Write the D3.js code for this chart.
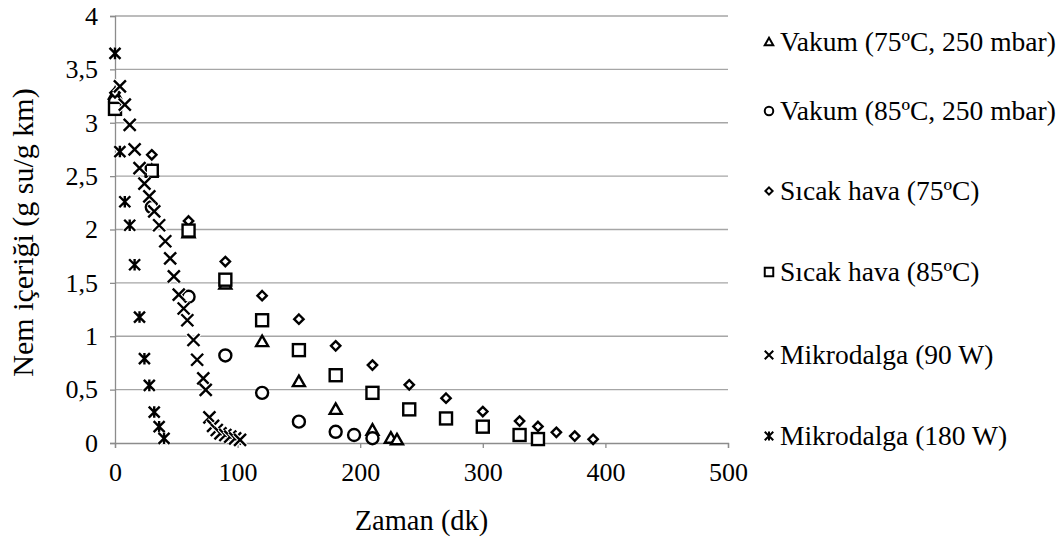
<!DOCTYPE html>
<html>
<head>
<meta charset="utf-8">
<script src="https://cdn.jsdelivr.net/npm/d3@7"></script>
<style>
  html, body { margin: 0; padding: 0; background: #fff; }
  svg { display: block; }
  svg text { font-family: "Liberation Serif", "Times New Roman", Times, "DejaVu Serif", serif !important; fill: #000; }
</style>
</head>
<body>
<svg id="chart" width="1064" height="545"></svg>
<script>
// Drying curves: moisture content (g water / g dry matter) vs. time (min)
const seriesNames = [
  "Vakum (75ºC, 250 mbar)",
  "Vakum (85ºC, 250 mbar)",
  "Sıcak hava (75ºC)",
  "Sıcak hava (85ºC)",
  "Mikrodalga (90 W)",
  "Mikrodalga (180 W)"
];
const seriesShapes = ["triangle", "circle", "diamond", "square", "cross", "star"];

const vakum75 = [[0,3.27],[30,2.55],[60,1.97],[90,1.49],[120,0.95],[150,0.575],[180,0.315],[210,0.12],[225,0.045],[230,0.03]];
const vakum85 = [[0,3.2],[30,2.21],[60,1.37],[90,0.82],[120,0.47],[150,0.2],[180,0.105],[195,0.075],[210,0.045]];
const sicak75 = [[0,3.28],[30,2.7],[60,2.08],[90,1.7],[120,1.38],[150,1.16],[180,0.91],[210,0.73],[240,0.545],[270,0.42],[300,0.295],[330,0.205],[345,0.155],[360,0.1],[375,0.065],[390,0.035]];
const sicak85 = [[0,3.13],[30,2.55],[60,1.99],[90,1.53],[120,1.15],[150,0.87],[180,0.635],[210,0.47],[240,0.315],[270,0.23],[300,0.153],[330,0.075],[345,0.037]];
const mikro90 = [[4,3.34],[8,3.17],[12,2.98],[16,2.75],[20,2.575],[24,2.43],[28,2.31],[32,2.17],[36,2.04],[41,1.89],[45,1.73],[48,1.56],[52,1.39],[56,1.26],[59,1.15],[64,0.965],[67,0.78],[72,0.606],[74,0.497],[77,0.24],[80,0.16],[83,0.122],[86,0.09],[90,0.075],[94,0.06],[98,0.044],[102,0.03]];
const mikro180 = [[0,3.65],[4,2.73],[8,2.26],[12,2.04],[16,1.67],[20,1.18],[24,0.79],[28,0.54],[32,0.29],[36,0.153],[40,0.044]];

const allSeries = [vakum75, vakum85, sicak75, sicak85, mikro90, mikro180];

const xTicks = [0, 100, 200, 300, 400, 500];
const yTicks = [0, 0.5, 1, 1.5, 2, 2.5, 3, 3.5, 4];

const svg = d3.select("#chart");
const plot = { left: 115, right: 728, top: 16, bottom: 443 };

const x = d3.scaleLinear().domain([0, 500]).range([plot.left, plot.right]);
const y = d3.scaleLinear().domain([0, 4]).range([plot.bottom, plot.top]);

const gridColor = "#a6a6a6";
const axisColor = "#8c8c8c";
const fmt = v => String(v).replace(".", ",");

// horizontal gridlines
svg.append("g")
  .selectAll("line")
  .data(yTicks.filter(v => v > 0))
  .join("line")
  .attr("x1", plot.left).attr("x2", plot.right)
  .attr("y1", d => y(d)).attr("y2", d => y(d))
  .attr("stroke", gridColor).attr("stroke-width", 1.3);

// y axis
const yAxis = svg.append("g")
  .attr("transform", `translate(${plot.left},0)`)
  .call(d3.axisLeft(y).tickValues(yTicks).tickFormat(fmt).tickSize(5).tickPadding(12));
yAxis.select(".domain").attr("stroke", axisColor).attr("stroke-width", 1.3);
yAxis.selectAll(".tick line").attr("stroke", axisColor).attr("stroke-width", 1.3);
yAxis.selectAll("text").attr("font-size", 26);

// x axis
const xAxis = svg.append("g")
  .attr("transform", `translate(0,${plot.bottom})`)
  .call(d3.axisBottom(x).tickValues(xTicks).tickSize(5).tickPadding(15));
xAxis.select(".domain").attr("stroke", axisColor).attr("stroke-width", 1.3);
xAxis.selectAll(".tick line").attr("stroke", axisColor).attr("stroke-width", 1.3);
xAxis.selectAll("text").attr("font-size", 26);

// axis titles
svg.append("text")
  .attr("transform", `translate(33,${(plot.top + plot.bottom) / 2 + 3}) rotate(-90)`)
  .attr("text-anchor", "middle")
  .attr("font-size", 30)
  .text("Nem içeriği (g su/g km)");

svg.append("text")
  .attr("x", (plot.left + plot.right) / 2)
  .attr("y", 530)
  .attr("text-anchor", "middle")
  .attr("font-size", 28.5)
  .text("Zaman (dk)");

// marker drawing
function drawMarker(g, shape, s, sw) {
  const h = s / 2;
  if (shape === "triangle") {
    g.append("path")
      .attr("d", `M0,${-h} L${h},${h * 0.75} L${-h},${h * 0.75} Z`)
      .attr("fill", "#fff").attr("stroke", "#000").attr("stroke-width", sw)
      .attr("stroke-linejoin", "miter");
  } else if (shape === "circle") {
    g.append("circle").attr("r", h)
      .attr("fill", "#fff").attr("stroke", "#000").attr("stroke-width", sw);
  } else if (shape === "diamond") {
    const d = h * 0.85;
    g.append("path").attr("d", `M0,${-d} L${d},0 L0,${d} L${-d},0 Z`)
      .attr("fill", "#fff").attr("stroke", "#000").attr("stroke-width", sw);
  } else if (shape === "square") {
    g.append("rect").attr("x", -h).attr("y", -h).attr("width", s).attr("height", s)
      .attr("fill", "#fff").attr("stroke", "#000").attr("stroke-width", sw);
  } else if (shape === "cross" || shape === "star") {
    const a = h;
    const p = `M${-a},${-a} L${a},${a} M${a},${-a} L${-a},${a}` +
      (shape === "star" ? ` M0,${-a * 1.05} L0,${a * 1.05}` : "");
    g.append("path").attr("d", p).attr("stroke", "#fff").attr("stroke-width", sw + 2.2);
    g.append("path").attr("d", p).attr("stroke", "#000").attr("stroke-width", sw);
  }
}

const markerSize = { triangle: 12, circle: 12, diamond: 11, square: 12, cross: 12, star: 11 };

allSeries.forEach((data, i) => {
  const shape = seriesShapes[i];
  const g = svg.append("g").attr("class", "series");
  data.forEach(d => {
    const m = g.append("g").attr("transform", `translate(${x(d[0])},${y(d[1])})`);
    drawMarker(m, shape, markerSize[shape], 2.4);
  });
});

// legend (entry centres down the right-hand side)
const legendRows = [42, 111, 191, 272, 355, 436];
const legend = svg.append("g");
seriesNames.forEach((name, i) => {
  const cy = legendRows[i];
  const m = legend.append("g").attr("transform", `translate(769,${cy})`);
  drawMarker(m, seriesShapes[i], 8.5, 2);
  legend.append("text")
    .attr("x", 780).attr("y", cy + 9)
    .attr("font-size", 27.5)
    .text(name);
});
</script>
</body>
</html>
